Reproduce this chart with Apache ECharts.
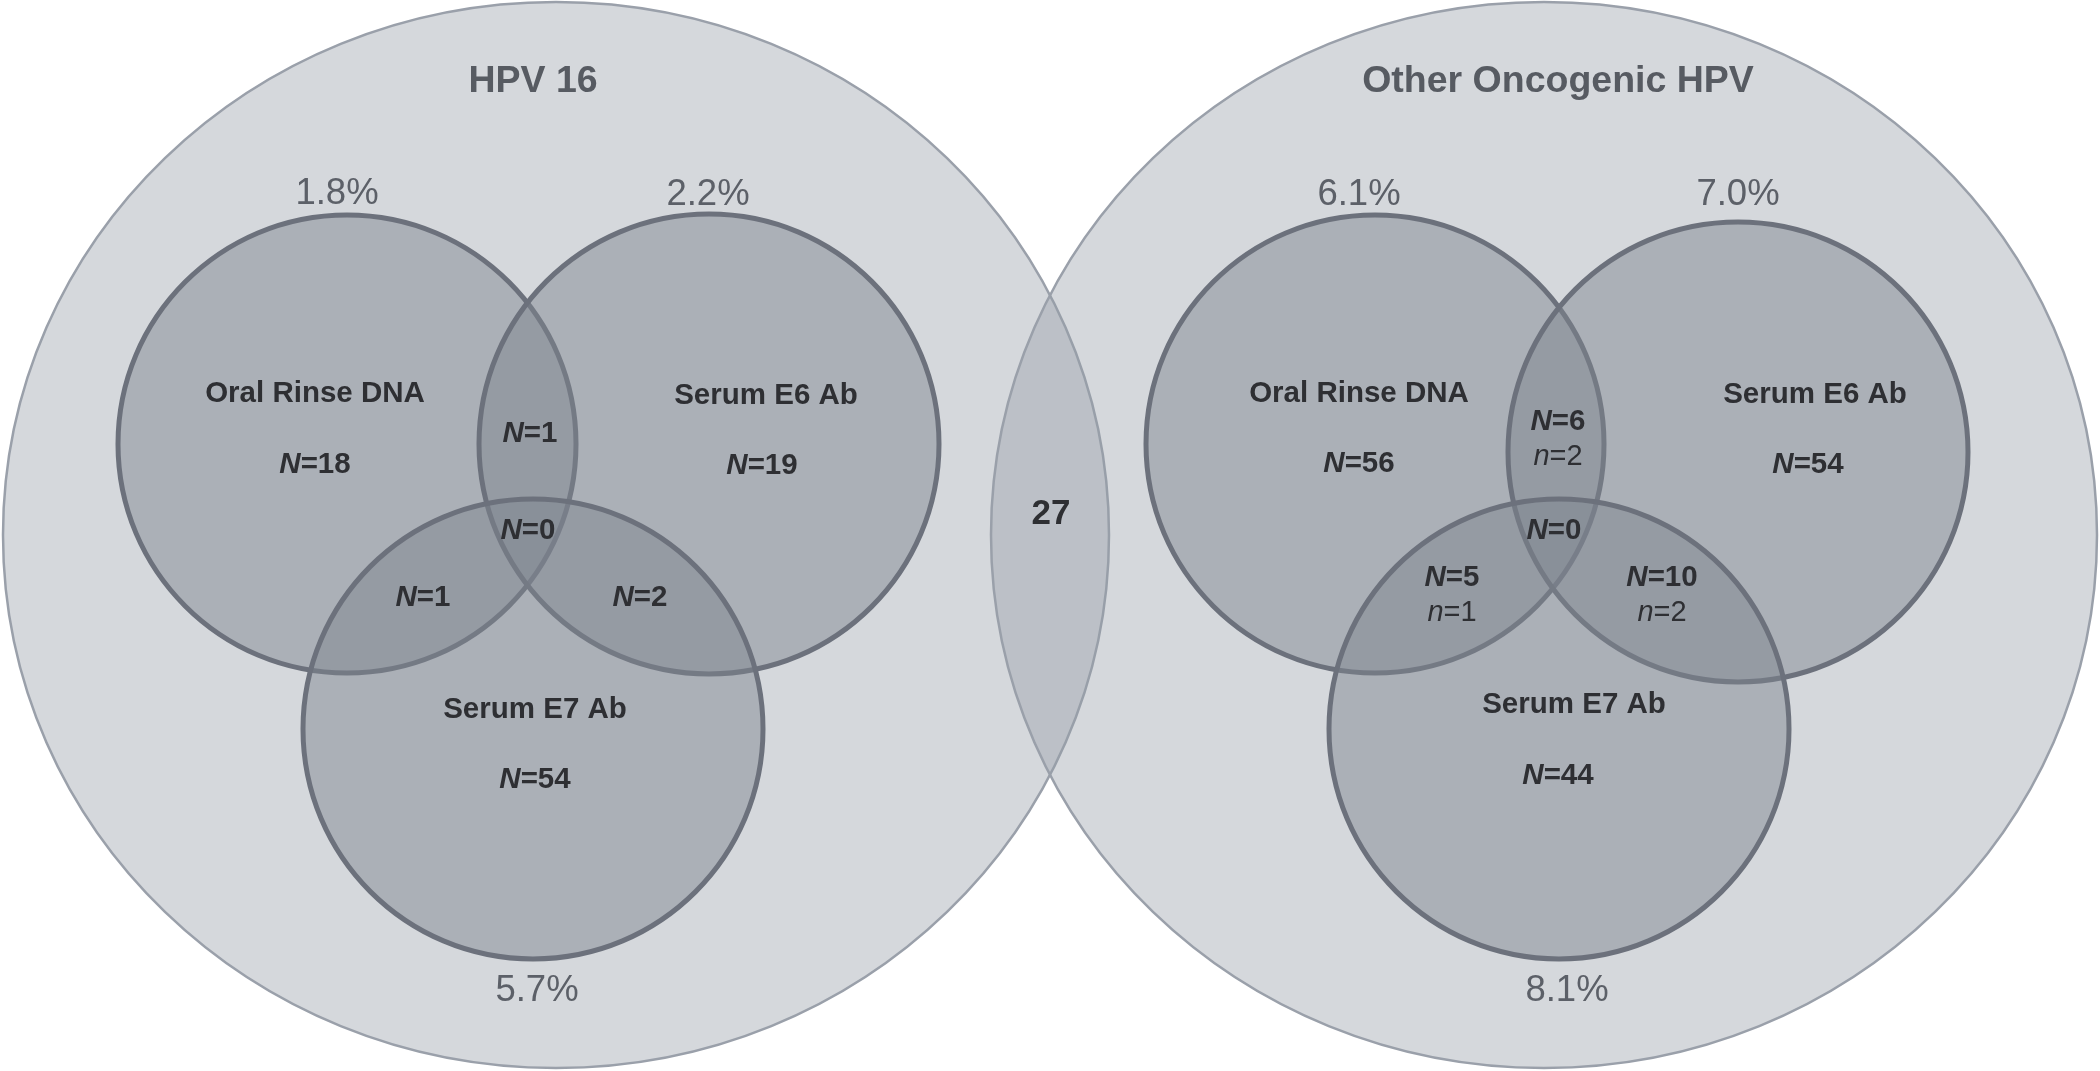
<!DOCTYPE html>
<html>
<head>
<meta charset="utf-8">
<script src="https://cdn.jsdelivr.net/npm/echarts@6/dist/echarts.min.js"></script>
<style>
  html, body { margin: 0; padding: 0; background: #ffffff; }
  #chart { width: 2100px; height: 1071px; }
</style>
</head>
<body>
<div id="chart"></div>
<script>
// ---- Data (in the diagram's own coordinate units) ----
// Outer sets (large ellipses)
const outerNames = ['HPV 16', 'Other Oncogenic HPV'];
const outerCx = [556, 1544];
const outerCy = [535, 535];
const outerRx = [553, 553];
const outerRy = [533, 533];

// Inner sets (small circles)
const innerNames = ['Oral Rinse DNA', 'Serum E6 Ab', 'Serum E7 Ab', 'Oral Rinse DNA', 'Serum E6 Ab', 'Serum E7 Ab'];
const innerCx = [347, 709, 533, 1375, 1738, 1559];
const innerCy = [444, 444, 729, 444, 452, 729];
const innerR = [229, 230, 230, 229, 230, 230];

// Titles
const titleText = ['HPV 16', 'Other Oncogenic HPV'];
const titleX = [533, 1558];
const titleY = [82, 82];

// Percentages
const pctText = ['1.8%', '2.2%', '5.7%', '6.1%', '7.0%', '8.1%'];
const pctX = [337, 708, 537, 1359, 1738, 1567];
const pctY = [194, 195, 991, 195, 195, 991];

// Set labels
const setLabelText = ['Oral Rinse DNA', 'Serum E6 Ab', 'Serum E7 Ab', 'Oral Rinse DNA', 'Serum E6 Ab', 'Serum E7 Ab'];
const setLabelX = [315, 766, 535, 1359, 1815, 1574];
const setLabelY = [394, 396, 710, 394, 395, 705];

// Region counts (N)
const countValue = [18, 19, 1, 0, 1, 2, 54, 56, 54, 6, 0, 5, 10, 44];
const countX = [315, 762, 530, 528, 423, 640, 535, 1359, 1808, 1558, 1554, 1452, 1662, 1558];
const countY = [465, 466, 434, 531, 598, 598, 780, 464, 465, 422, 531, 578, 578, 776];

// Sub-counts (n)
const subValue = [2, 1, 2];
const subX = [1558, 1452, 1662];
const subY = [457, 613, 613];

// Outside-both / shared count
const sharedValue = [27];
const sharedX = [1051];
const sharedY = [514];

// ---- Build series data ----
const outerData = outerCx.map((x, i) => [x, outerCy[i], outerRx[i], outerRy[i], outerNames[i]]);
const innerData = innerCx.map((x, i) => [x, innerCy[i], innerR[i], innerR[i], innerNames[i]]);

const textItems = [];
titleText.forEach((t, i) => textItems.push([titleX[i], titleY[i], t, 'title']));
pctText.forEach((t, i) => textItems.push([pctX[i], pctY[i], t, 'pct']));
setLabelText.forEach((t, i) => textItems.push([setLabelX[i], setLabelY[i], t, 'set']));
countValue.forEach((v, i) => textItems.push([countX[i], countY[i], '{ni|N}{nb|=' + v + '}', 'count']));
subValue.forEach((v, i) => textItems.push([subX[i], subY[i], '{si|n}{sr|=' + v + '}', 'sub']));
sharedValue.forEach((v, i) => textItems.push([sharedX[i], sharedY[i], String(v), 'shared']));

const FONT = '"Liberation Sans", Arial, sans-serif';
const LBL = 29.5;
const richStyles = {
  ni: { fontFamily: FONT, fontSize: LBL, fontWeight: 'bold', fontStyle: 'italic', fill: '#2e2f33', color: '#2e2f33' },
  nb: { fontFamily: FONT, fontSize: LBL, fontWeight: 'bold', fill: '#2e2f33', color: '#2e2f33' },
  si: { fontFamily: FONT, fontSize: 29, fontStyle: 'italic', fill: '#2e2f33', color: '#2e2f33' },
  sr: { fontFamily: FONT, fontSize: 29, fill: '#2e2f33', color: '#2e2f33' }
};
const kindStyle = {
  title: { font: 'bold 37.5px ' + FONT, fill: '#575b62' },
  pct: { font: '36.5px ' + FONT, fill: '#5c6068' },
  set: { font: 'bold ' + LBL + 'px ' + FONT, fill: '#2e2f33' },
  count: { font: 'bold ' + LBL + 'px ' + FONT, fill: '#2e2f33' },
  sub: { font: '29px ' + FONT, fill: '#2e2f33' },
  shared: { font: 'bold 35px ' + FONT, fill: '#2e2f33' }
};

function ellipseRenderer(fill, stroke, lineWidth) {
  return function (params, api) {
    const c = api.coord([api.value(0), api.value(1)]);
    const s = api.size([api.value(2), api.value(3)]);
    return {
      type: 'ellipse',
      shape: { cx: c[0], cy: c[1], rx: s[0], ry: s[1] },
      style: { fill: fill, stroke: stroke, lineWidth: lineWidth }
    };
  };
}

const chart = echarts.init(document.getElementById('chart'), null, { renderer: 'canvas' });
chart.setOption({
  backgroundColor: '#ffffff',
  animation: false,
  grid: { left: 0, right: 0, top: 0, bottom: 0 },
  xAxis: { type: 'value', min: 0, max: 2100, show: false },
  yAxis: { type: 'value', min: 0, max: 1071, inverse: true, show: false },
  series: [
    {
      type: 'custom',
      silent: true,
      z: 1,
      data: outerData,
      renderItem: ellipseRenderer('rgba(150,157,168,0.40)', '#9aa0aa', 2.5)
    },
    {
      type: 'custom',
      silent: true,
      z: 2,
      data: innerData,
      renderItem: ellipseRenderer('rgba(125,131,142,0.48)', '#6c717c', 5)
    },
    {
      type: 'custom',
      silent: true,
      z: 3,
      data: textItems,
      renderItem: function (params, api) {
        const item = textItems[params.dataIndex];
        const c = api.coord([item[0], item[1]]);
        const ks = kindStyle[item[3]];
        return {
          type: 'text',
          x: c[0],
          y: c[1],
          style: {
            text: item[2],
            font: ks.font,
            fill: ks.fill,
            align: 'center',
            verticalAlign: 'middle',
            rich: richStyles
          }
        };
      }
    }
  ]
});
</script>
</body>
</html>
